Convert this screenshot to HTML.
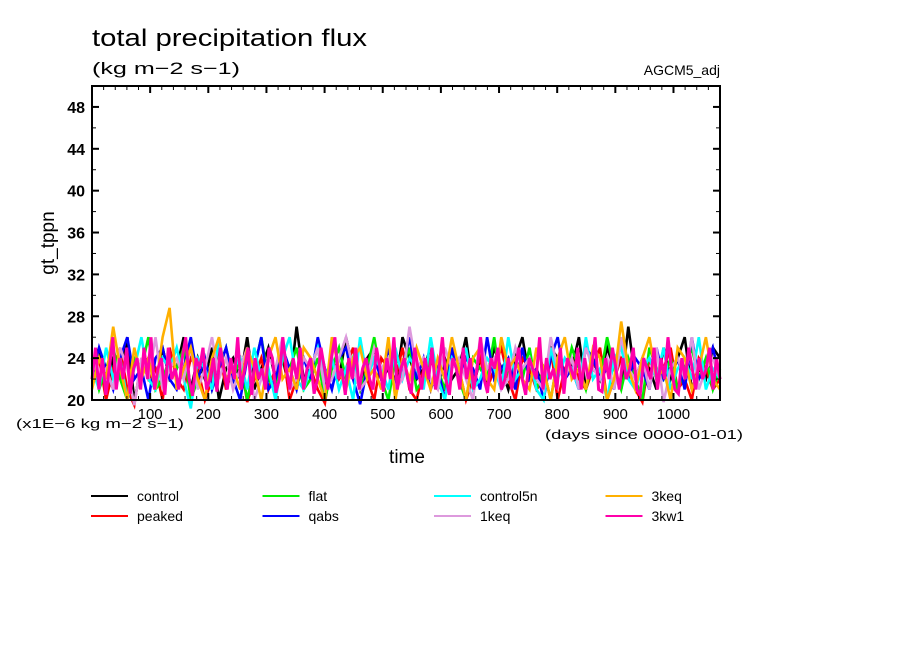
<!DOCTYPE html>
<html><head><meta charset="utf-8"><style>
body{margin:0;background:#fff;width:904px;height:654px;overflow:hidden}
svg{display:block;font-family:"Liberation Sans",sans-serif}
</style></head><body>
<svg id="chart" width="904" height="654">
<text x="92" y="46" font-size="24" textLength="275" lengthAdjust="spacingAndGlyphs">total precipitation flux</text>
<text x="92" y="74" font-size="17" textLength="148" lengthAdjust="spacingAndGlyphs">(kg m−2 s−1)</text>
<text x="720" y="75" font-size="14" text-anchor="end">AGCM5_adj</text>
<text x="54" y="243" font-size="19" text-anchor="middle" transform="rotate(-90 54 243)">gt_tppn</text>
<text x="407" y="463" font-size="19" text-anchor="middle">time</text>
<text x="16" y="428" font-size="13" textLength="168" lengthAdjust="spacingAndGlyphs">(x1E−6 kg m−2 s−1)</text>
<text x="545" y="439" font-size="13" textLength="198" lengthAdjust="spacingAndGlyphs">(days since 0000-01-01)</text>
<g id="series"></g>
<g id="axes"></g>
<g id="legend"></g>
</svg>
<script>
const names=["control","peaked","flat","qabs","control5n","1keq","3keq","3kw1"];
const colors=["#000000","#ff0000","#00ee00","#0000ff","#00ffff","#dd99dd","#ffb000","#ff00aa"];
const yTicks=[20,24,28,32,36,40,44,48];
const xTicks=[100,200,300,400,500,600,700,800,900,1000];
const sControl=[23,25,21,24,22,26,20,23,24,21,25,22,23,26,21,24,22,25,20,23,24,22,26,21,23,25,22,24,21,27,22,23,25,21,24,22,26,23,21,24,25,22,23,21,26,24,22,23,25,21,24,22,23,26,21,24,22,25,23,21,24,26,22,23,21,25,24,22,23,26,21,24,22,25,23,21,27,22,24,23,21,25,22,24,26,21,23,22,25,24];
const sPeaked=[22,24,20,23,25,21,19.5,24,22,23,20,25,22,21,24,23,20,22,25,21,23,24,19.8,22,24,21,23,25,20,22,24,23,21,19.7,24,22,23,25,21,22,20,24,23,22,25,21,20,23,24,22,21,25,23,20,22,24,21,23,25,22,20,24,23,21,22,25,20,23,24,22,21,23,25,20,22,24,23,21,19.8,24,22,23,25,21,22,20,24,23,21,22];
const sFlat=[24,21,23,25,22,20,24,23,26,21,22,24,23,25,20,22,24,21,23,25,22,24,20,23,26,22,21,24,23,25,21,22,24,20,23,25,22,24,21,23,26,22,20,24,23,25,21,22,24,23,21,25,22,20,24,23,22,26,21,23,24,22,25,21,23,20,24,22,25,23,21,24,22,26,23,21,24,22,20,25,23,22,24,21,23,25,22,24,21,23];
const sQabs=[22,25,23,21,24,26,22,23,20,24,25,22,21,23,26,22,24,21,23,25,22,20,24,23,26,21,22,25,23,21,24,22,26,23,21,24,25,22,19.6,23,24,22,25,21,23,26,22,24,21,23,20,25,22,24,23,21,26,22,23,24,21,25,22,23,20,24,26,22,23,21,25,24,22,23,21,26,22,24,23,21,25,22,23,24,21,26,22,23,25,22];
const sControl5n=[23,21,25,22,24,20,23,26,22,21,24,23,25,22,19.2,24,23,21,26,22,23,24,21,25,22,23,20,24,26,22,21,23,25,22,24,21,23,20,26,22,24,23,21,25,22,24,23,21,26,22,20,24,23,25,21,22,24,23,21,26,22,23,24,21,20,25,22,24,23,21,26,22,23,20,24,25,22,21,23,24,22,25,21,23,24,22,26,21,23,22];
const s1keq=[24,22,23,21,25,23,19.5,24,22,26,21,23,24,22,25,21,23,26,22,24,21,23,25,20,22,24,23,26,21,22,24,23,25,21,22,24,26,23,21,22,25,23,24,21,22,27,23,24,22,21,25,23,24,22,20,26,23,24,21,22,25,23,24,22,21,26,23,22,24,21,25,23,22,24,21,26,23,22,24,21,25,19.8,23,24,22,26,21,23,24,22];
const s3keq=[21,24,22,27,23,20,25,22,24,21,26,28.8,21,23,25,22,20,24,26,22,23,21,25,23,20,24,26,22,23,21,25,24,22,20,26,23,21,24,25,22,23,21,26,20,24,22,25,23,21,24,22,26,23,20,24,25,22,21,26,23,24,22,21,25,23,20,24,26,22,23,21,25,24,20,22,27.5,23,21,24,26,22,23,20,25,24,21,23,26,22,21];
const s3kw1=[22,25,21,24,20.5,23,26,21,24,22,25,20.6,23,24,21,25,22,26,21,23,24,20.5,25,22,23,21,24,26,22,20.4,24,23,25,21,22,24,20.8,25,23,21,24,22,26,21,23,25,20.5,24,22,23,21,25,24,20.7,22,26,23,21,24,22,25,21,23,24,20.6,22,25,23,21,24,26,22,23,20.5,24,22,25,21,23,24,22,21,25,23,20.8,24,22,26,21,23,24,22,20.6,25,23,21,24,22,25,21,23,26,22,20.5,24,23,21,25,22,24,21,23,26,22,20.7,24,23,25,21,22,24,21,23,25,22,20.5,24,23,22,26,21,24,22,23,21,25,20.6,24,23,22,25,21,24,22,23,26,21,20.8,24,22,25,23,21,24,22,23,25,21,20.5,24,23,22,25,21,24,22,26,23,21,20.6,24,22,25,23,21,24,22,23,25,21,24,22];
const allSeries=[sControl,sPeaked,sFlat,sQabs,sControl5n,s1keq,s3keq,s3kw1];
const X0=92,X1=720,Y0=400,Y1=86,XMIN=0,XMAX=1080,YMIN=20,YMAX=50;
const NS="http://www.w3.org/2000/svg";
function xs(v){return X0+(v-XMIN)/(XMAX-XMIN)*(X1-X0);}
function ys(v){return Y0-(v-YMIN)/(YMAX-YMIN)*(Y0-Y1);}
function mk(tag,attrs,parent){const e=document.createElementNS(NS,tag);for(const k in attrs)e.setAttribute(k,attrs[k]);parent.appendChild(e);return e;}
const sg=document.getElementById('series');
allSeries.forEach((arr,i)=>{
  const n=arr.length;
  const pts=arr.map((v,j)=>xs(XMIN+j*(XMAX-XMIN)/(n-1)).toFixed(1)+","+ys(v).toFixed(1)).join(" ");
  const p=mk('polyline',{points:pts,fill:'none',stroke:colors[i],'stroke-width':i===7?3:2.6,'stroke-linejoin':'miter'},sg);
  
  
});
const ag=document.getElementById('axes');
const frame=mk('rect',{x:X0,y:Y1,width:X1-X0,height:Y0-Y1,fill:'none',stroke:'#000','stroke-width':2},ag);


for(let v=20;v<XMAX;v+=20){
  const x=xs(v),maj=v%100===0;
  mk('line',{x1:x,x2:x,y1:Y1,y2:Y1+(maj?7:4),stroke:'#000','stroke-width':maj?2:1},ag);
  mk('line',{x1:x,x2:x,y1:Y0,y2:Y0-(maj?7:4),stroke:'#000','stroke-width':maj?2:1},ag);
}
for(let v=22;v<50;v+=2){
  const y=ys(v),maj=v%4===0;
  mk('line',{x1:X0,x2:X0+(maj?7:4),y1:y,y2:y,stroke:'#000','stroke-width':maj?2:1},ag);
  mk('line',{x1:X1,x2:X1-(maj?7:4),y1:y,y2:y,stroke:'#000','stroke-width':maj?2:1},ag);
}
yTicks.forEach(v=>{
  const t=mk('text',{x:85,y:ys(v)+6,'font-size':16,'font-weight':'bold','text-anchor':'end'},ag);
  t.textContent=v;
  
  
});
xTicks.forEach(v=>{
  const t=mk('text',{x:xs(v),y:419,'font-size':15,'text-anchor':'middle'},ag);
  t.textContent=v;
  
  
});
const lg=document.getElementById('legend');
const order=[[0,1],[2,3],[4,5],[6,7]];
names.forEach((nm,i)=>{
  const c=order.findIndex(o=>o.includes(i));
  const r=order[c].indexOf(i);
  const lx=91+c*171.5,ly=496+r*20;
  const g=mk('g',{},lg);
  
  
  mk('line',{x1:lx,x2:lx+37,y1:ly,y2:ly,stroke:colors[i],'stroke-width':2},g);
  const t=mk('text',{x:lx+46,y:ly+5,'font-size':14},g);
  t.textContent=nm;
});
</script>
</body></html>
